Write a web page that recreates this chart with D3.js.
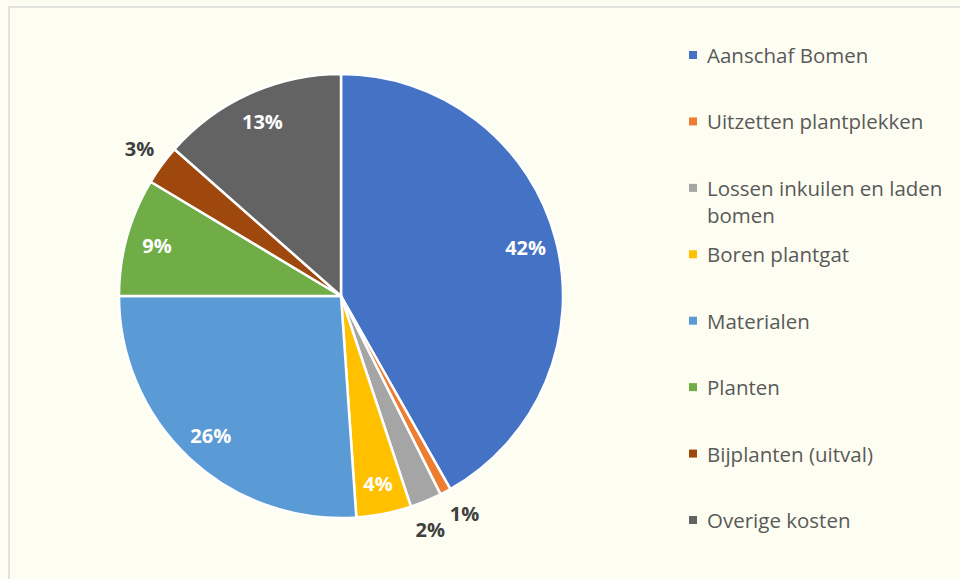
<!DOCTYPE html>
<html><head><meta charset="utf-8">
<script src="https://cdn.jsdelivr.net/npm/d3@7"></script>
<style>html,body{margin:0;padding:0;background:#fdfef1;}svg{display:block;}</style>
</head><body><svg id="c" width="960" height="579"></svg>
<script>
const categories = ["Aanschaf Bomen","Uitzetten plantplekken","Lossen inkuilen en laden bomen","Boren plantgat","Materialen","Planten","Bijplanten (uitval)","Overige kosten"];
const values = [41.8, 0.8, 2.3, 4.0, 26.1, 8.6, 2.9, 13.5];
const labels = ["42%","1%","2%","4%","26%","9%","3%","13%"];
const colors = ["#4472C4","#ED7D31","#A5A5A5","#FFC000","#5B9BD5","#70AD47","#9E480E","#636363"];
const legendLines = [["Aanschaf Bomen"],["Uitzetten plantplekken"],["Lossen inkuilen en laden","bomen"],["Boren plantgat"],["Materialen"],["Planten"],["Bijplanten (uitval)"],["Overige kosten"]];

const svg = d3.select("#c");
svg.append("rect").attr("width",960).attr("height",579).attr("fill","#fdfef1");
svg.append("rect").attr("x",9).attr("y",7).attr("width",960).attr("height",600)
  .attr("fill","none").attr("stroke","#d9d9d9").attr("stroke-width",1.5);

const cx = 341, cy = 296, R = 222;
const pie = d3.pie().sort(null).value(d=>d);
const arcs = pie(values);
const arc = d3.arc().innerRadius(0).outerRadius(R);
const g = svg.append("g").attr("transform",`translate(${cx},${cy})`);
g.selectAll("path").data(arcs).join("path")
  .attr("d",arc).attr("fill",(d,i)=>colors[i])
  .attr("stroke","#fff").attr("stroke-width",2.5).attr("stroke-linejoin","round");

// label angles, with simple spreading of adjacent outside labels
const minSep = 8.7*Math.PI/180;
const lab = arcs.map(d=>({d, inside:d.data>=3.5, a:(d.startAngle+d.endAngle)/2}));
const outs = lab.filter(l=>!l.inside);
for (let k=0;k<outs.length-1;k++){
  const A=outs[k], B=outs[k+1];
  const sep = B.a-A.a;
  if (sep < minSep){ const mid=(A.a+B.a)/2; A.a=mid-minSep/2; B.a=mid+minSep/2; }
}
const font = "'Open Sans', sans-serif";
g.selectAll("text.lbl").data(lab).join("text").attr("class","lbl")
  .attr("transform",l=>{
    const r = l.inside ? R*0.86 : R*1.125;
    return `translate(${Math.sin(l.a)*r},${-Math.cos(l.a)*r})`;
  })
  .attr("text-anchor","middle").attr("dominant-baseline","central")
  .attr("font-family",font).attr("font-weight","bold").attr("font-size",20)
  .attr("fill",l=>l.inside?"#fff":"#404040")
  .text((l,i)=>labels[i]);

const ly = d3.scalePoint().domain(d3.range(categories.length)).range([55,520]);
const leg = svg.append("g");
const items = leg.selectAll("g").data(categories).join("g")
  .attr("transform",(d,i)=>`translate(689,${ly(i)})`);
items.append("rect").attr("x",0).attr("y",-4).attr("width",8).attr("height",8)
  .attr("fill",(d,i)=>colors[i]);
items.append("text").attr("x",18).attr("y",0).attr("dominant-baseline","central")
  .attr("font-family",font).attr("font-size",20.5).attr("fill","#595959")
  .each(function(d,i){
    const t = d3.select(this);
    legendLines[i].forEach((s,k)=>{
      t.append("tspan").attr("x",18).attr("dy",k===0?0:27).text(s);
    });
  });
</script></body></html>
